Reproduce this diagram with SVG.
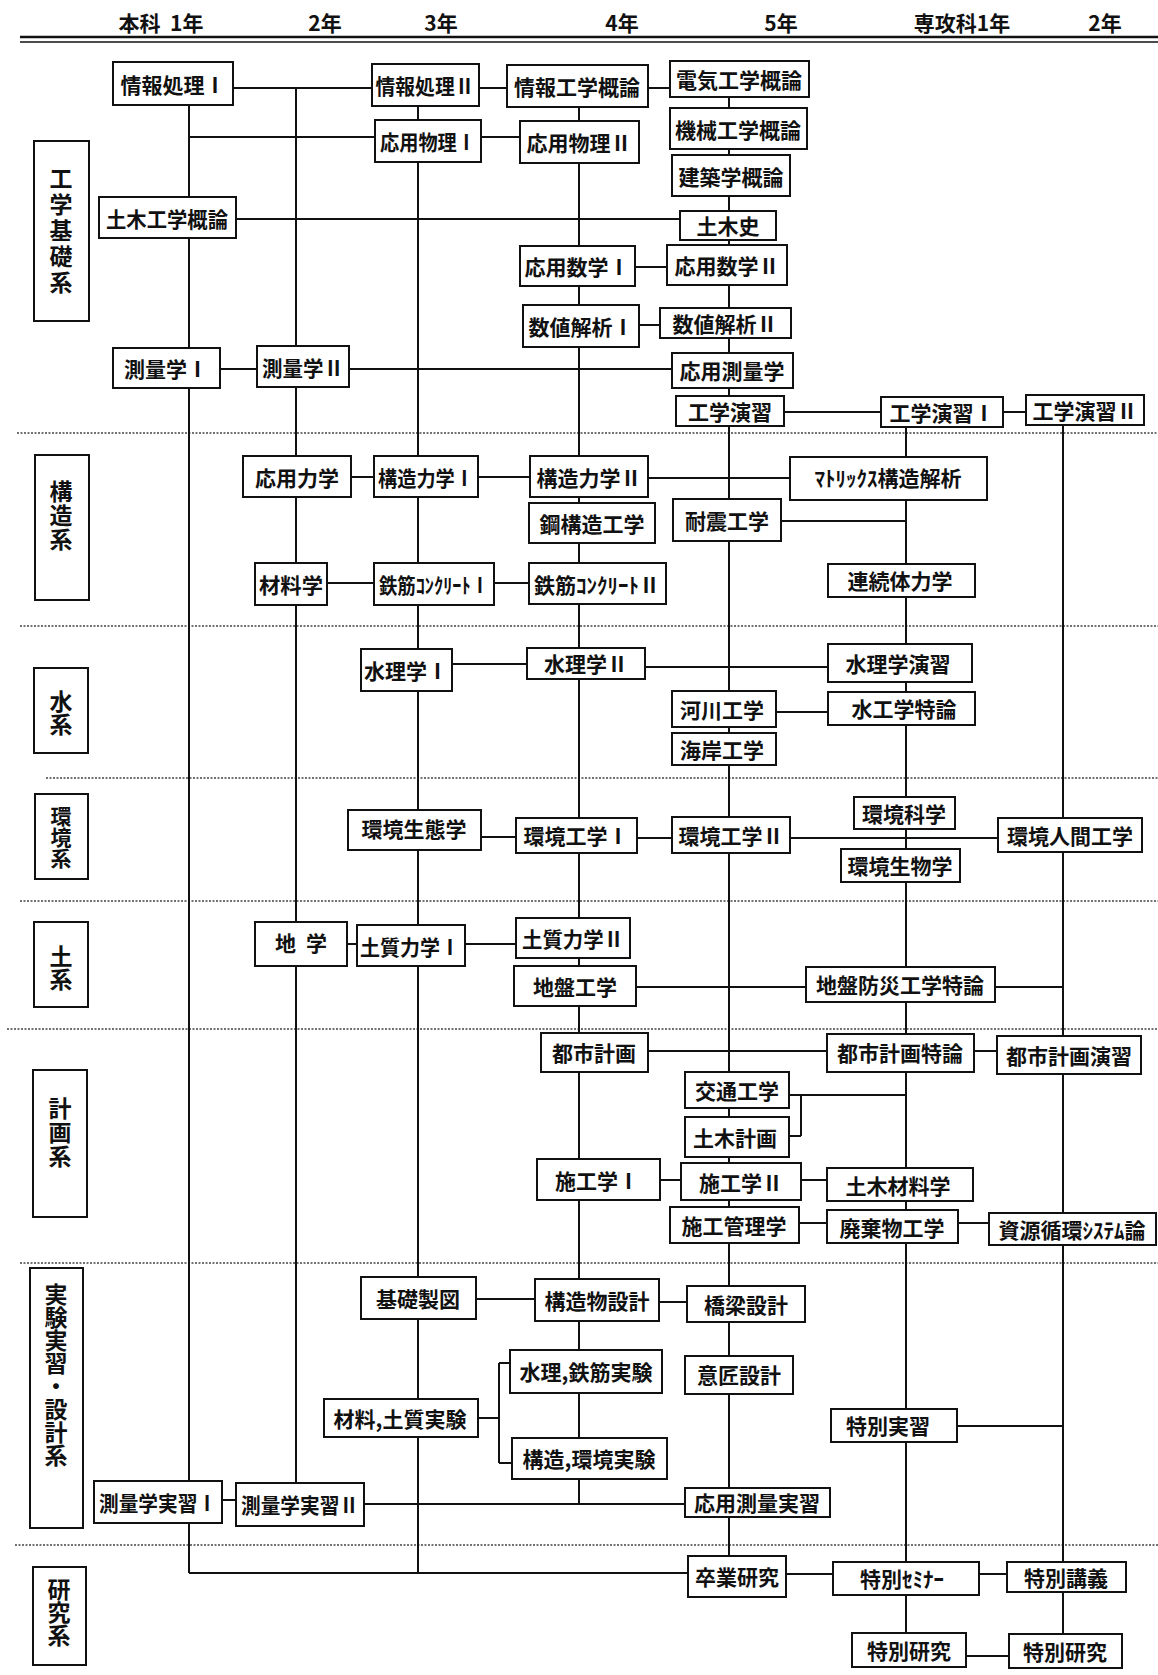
<svg xmlns="http://www.w3.org/2000/svg" width="1158" height="1675" viewBox="0 0 1158 1675">
<style>
.box{fill:#fff;stroke:#111;stroke-width:2}
.t{font-family:"Noto Sans CJK JP","Noto Sans CJK SC",sans-serif;font-size:21px;font-weight:bold;text-anchor:middle;dominant-baseline:central;fill:#111}
.h{font-family:"Noto Sans CJK JP","Noto Sans CJK SC",sans-serif;font-size:21px;font-weight:bold;text-anchor:middle;fill:#111}
.v{font-family:"Noto Sans CJK JP","Noto Sans CJK SC",sans-serif;font-size:23px;font-weight:bold;text-anchor:middle;fill:#111;writing-mode:vertical-rl}
.sep{stroke:#444;stroke-width:1.6;stroke-dasharray:2 1.5;fill:none}
.c{stroke:#111;stroke-width:2;fill:none}
</style>
<rect width="1158" height="1675" fill="#fff"/>
<g id="header">
<text class="h" x="161" y="31" xml:space="preserve">本科  1年</text>
<text class="h" x="325" y="31">2年</text>
<text class="h" x="441" y="31">3年</text>
<text class="h" x="622" y="31">4年</text>
<text class="h" x="781" y="31">5年</text>
<text class="h" x="962" y="31">専攻科1年</text>
<text class="h" x="1105" y="31">2年</text>
<line x1="20" y1="37" x2="1158" y2="37" stroke="#111" stroke-width="2.5"/>
<line x1="20" y1="42" x2="1158" y2="42" stroke="#111" stroke-width="1.5"/>
</g>
<g id="separators">
<line class="sep" x1="17" y1="433" x2="1158" y2="433"/>
<line class="sep" x1="20" y1="626" x2="1158" y2="626"/>
<line class="sep" x1="46" y1="778" x2="1158" y2="778"/>
<line class="sep" x1="20" y1="901" x2="1158" y2="901"/>
<line class="sep" x1="7" y1="1029" x2="1158" y2="1029"/>
<line class="sep" x1="20" y1="1263" x2="1158" y2="1263"/>
<line class="sep" x1="15" y1="1545" x2="1158" y2="1545"/>
</g>
<g id="categories">
<g id="cat1"><rect class="box" x="34" y="141" width="55" height="180"/><text class="v" x="61" y="232" letter-spacing="3">工学基礎系</text></g>
<g id="cat2"><rect class="box" x="35" y="455" width="54" height="145"/><text class="v" x="61" y="516" letter-spacing="1">構造系</text></g>
<g id="cat3"><rect class="box" x="34" y="668" width="54" height="85"/><text class="v" x="61" y="713">水系</text></g>
<g id="cat4"><rect class="box" x="35" y="794" width="53" height="85"/><text class="v" x="61" y="837" style="font-size:21px">環境系</text></g>
<g id="cat5"><rect class="box" x="34" y="922" width="54" height="85"/><text class="v" x="61" y="968">土系</text></g>
<g id="cat6"><rect class="box" x="33" y="1070" width="54" height="147"/><text class="v" x="60" y="1133" letter-spacing="1">計画系</text></g>
<g id="cat7"><rect class="box" x="30" y="1268" width="53" height="260"/><text class="v" x="56" y="1375">実験実習・設計系</text></g>
<g id="cat8"><rect class="box" x="33" y="1567" width="53" height="98"/><text class="v" x="59" y="1612">研究系</text></g>
</g>
<g id="connectors">
<path class="c" d="M189 105V197M189 238V348M189 388V1481M189 1523V1573"/>
<path class="c" d="M296 88V346M296 387V456M296 497V563M296 605V922M296 966V1483"/>
<path class="c" d="M418 106V120M418 162V456M418 497V563M418 605V649M418 691V810M418 850V925M418 966V1277M418 1319V1399M418 1437V1573"/>
<path class="c" d="M579 107V121M579 163V246M579 286V305M579 347V456M579 497V503M579 543V563M579 604V648M579 679V818M579 853V918M579 958V966M579 1006V1033M579 1072V1159M579 1200V1279M579 1321V1350M579 1393V1438M579 1479V1504"/>
<path class="c" d="M729 97V108M729 149V155M729 196V211M729 240V245M729 285V308M729 338V353M729 388V396M729 426V499M729 541V691M729 727V733M729 765V817M729 853V1072M729 1108V1117M729 1157V1163M729 1200V1207M729 1243V1286M729 1322V1356M729 1394V1488M729 1517V1556"/>
<path class="c" d="M906 427V457M906 500V564M906 597V644M906 682V692M906 725V797M906 829V849M906 882V967M906 1002V1034M906 1072V1168M906 1201V1210M906 1243V1409M906 1442V1562M906 1595V1633"/>
<path class="c" d="M1063 425V818M1063 852V1036M1063 1074V1213M1063 1245V1562M1063 1592V1634"/>
<path class="c" d="M233 88H372M479 88H507M648 88H670M189 137H375M481 137H520M236 219H680M635 267H667M639 325H660M220 369H257M349 369H672M784 412H881M1003 412H1026"/>
<path class="c" d="M351 477H374M478 477H530M648 478H790M781 521H906M327 583H374M494 583H529M452 664H527M645 667H828M776 712H828M481 837H516M637 838H672M790 838H998"/>
<path class="c" d="M347 944H357M465 944H516M636 987H806M995 987H1063M648 1051H827M974 1051H997M789 1095H906M801 1095V1136M789 1136H801M660 1180H681M801 1180H827M799 1223H827M958 1223H989"/>
<path class="c" d="M476 1299H535M659 1302H687M478 1418H499M499 1363V1463M499 1363H510M499 1463H512M957 1426H1063M222 1500H236M364 1504H685M189 1573H688M786 1574H833M979 1574H1007M966 1656H1009"/>
</g>
<g id="nodes">
<g id="n01"><rect class="box" x="113" y="62" width="120" height="43"/><text class="t" x="173" y="84">情報処理Ⅰ</text></g>
<g id="n02"><rect class="box" x="372" y="64" width="107" height="42"/><text class="t" x="425" y="85" textLength="99" lengthAdjust="spacingAndGlyphs">情報処理Ⅱ</text></g>
<g id="n03"><rect class="box" x="507" y="65" width="141" height="42"/><text class="t" x="577" y="86">情報工学概論</text></g>
<g id="n04"><rect class="box" x="670" y="61" width="139" height="36"/><text class="t" x="739" y="79">電気工学概論</text></g>
<g id="n05"><rect class="box" x="670" y="108" width="137" height="41"/><text class="t" x="738" y="129">機械工学概論</text></g>
<g id="n06"><rect class="box" x="672" y="155" width="118" height="41"/><text class="t" x="731" y="176">建築学概論</text></g>
<g id="n07"><rect class="box" x="680" y="211" width="96" height="29"/><text class="t" x="728" y="225">土木史</text></g>
<g id="n08"><rect class="box" x="375" y="120" width="106" height="42"/><text class="t" x="428" y="141" textLength="96" lengthAdjust="spacingAndGlyphs">応用物理Ⅰ</text></g>
<g id="n09"><rect class="box" x="520" y="121" width="119" height="42"/><text class="t" x="579" y="142">応用物理Ⅱ</text></g>
<g id="n10"><rect class="box" x="99" y="197" width="137" height="41"/><text class="t" x="167" y="218" textLength="122" lengthAdjust="spacingAndGlyphs">土木工学概論</text></g>
<g id="n11"><rect class="box" x="520" y="246" width="115" height="40"/><text class="t" x="577" y="266">応用数学Ⅰ</text></g>
<g id="n12"><rect class="box" x="667" y="245" width="120" height="40"/><text class="t" x="727" y="265">応用数学Ⅱ</text></g>
<g id="n13"><rect class="box" x="523" y="305" width="116" height="42"/><text class="t" x="581" y="326">数値解析Ⅰ</text></g>
<g id="n14"><rect class="box" x="660" y="308" width="131" height="30"/><text class="t" x="725" y="323">数値解析Ⅱ</text></g>
<g id="n15"><rect class="box" x="113" y="348" width="107" height="40"/><text class="t" x="166" y="368">測量学Ⅰ</text></g>
<g id="n16"><rect class="box" x="257" y="346" width="92" height="41"/><text class="t" x="303" y="367" textLength="82" lengthAdjust="spacingAndGlyphs">測量学Ⅱ</text></g>
<g id="n17"><rect class="box" x="672" y="353" width="121" height="35"/><text class="t" x="732" y="370">応用測量学</text></g>
<g id="n18"><rect class="box" x="676" y="396" width="108" height="30"/><text class="t" x="730" y="411">工学演習</text></g>
<g id="n19"><rect class="box" x="881" y="397" width="122" height="30"/><text class="t" x="942" y="412">工学演習Ⅰ</text></g>
<g id="n20"><rect class="box" x="1026" y="395" width="118" height="30"/><text class="t" x="1085" y="410">工学演習Ⅱ</text></g>
<g id="n21"><rect class="box" x="243" y="456" width="108" height="41"/><text class="t" x="297" y="477">応用力学</text></g>
<g id="n22"><rect class="box" x="374" y="456" width="104" height="41"/><text class="t" x="426" y="477" textLength="96" lengthAdjust="spacingAndGlyphs">構造力学Ⅰ</text></g>
<g id="n23"><rect class="box" x="530" y="456" width="118" height="41"/><text class="t" x="589" y="477">構造力学Ⅱ</text></g>
<g id="n24"><rect class="box" x="529" y="503" width="126" height="40"/><text class="t" x="592" y="523">鋼構造工学</text></g>
<g id="n25"><rect class="box" x="790" y="457" width="197" height="43"/><text class="t" x="888" y="477">ﾏﾄﾘｯｸｽ構造解析</text></g>
<g id="n26"><rect class="box" x="673" y="499" width="108" height="42"/><text class="t" x="727" y="520">耐震工学</text></g>
<g id="n27"><rect class="box" x="255" y="563" width="72" height="42"/><text class="t" x="291" y="584" textLength="64" lengthAdjust="spacingAndGlyphs">材料学</text></g>
<g id="n28"><rect class="box" x="374" y="563" width="120" height="42"/><text class="t" x="434" y="584" textLength="110" lengthAdjust="spacingAndGlyphs">鉄筋ｺﾝｸﾘｰﾄⅠ</text></g>
<g id="n29"><rect class="box" x="529" y="563" width="137" height="41"/><text class="t" x="597" y="584">鉄筋ｺﾝｸﾘｰﾄⅡ</text></g>
<g id="n30"><rect class="box" x="828" y="564" width="147" height="33"/><text class="t" x="900" y="580">連続体力学</text></g>
<g id="n31"><rect class="box" x="361" y="649" width="91" height="42"/><text class="t" x="406" y="670">水理学Ⅰ</text></g>
<g id="n32"><rect class="box" x="527" y="648" width="118" height="31"/><text class="t" x="586" y="663">水理学Ⅱ</text></g>
<g id="n33"><rect class="box" x="828" y="644" width="144" height="38"/><text class="t" x="898" y="663">水理学演習</text></g>
<g id="n34"><rect class="box" x="672" y="691" width="104" height="36"/><text class="t" x="722" y="709">河川工学</text></g>
<g id="n35"><rect class="box" x="828" y="692" width="147" height="33"/><text class="t" x="904" y="708">水工学特論</text></g>
<g id="n36"><rect class="box" x="672" y="733" width="104" height="32"/><text class="t" x="722" y="749">海岸工学</text></g>
<g id="n37"><rect class="box" x="348" y="810" width="133" height="40"/><text class="t" x="414" y="828">環境生態学</text></g>
<g id="n38"><rect class="box" x="516" y="818" width="121" height="35"/><text class="t" x="576" y="835">環境工学Ⅰ</text></g>
<g id="n39"><rect class="box" x="672" y="817" width="118" height="36"/><text class="t" x="731" y="835">環境工学Ⅱ</text></g>
<g id="n40"><rect class="box" x="854" y="797" width="101" height="32"/><text class="t" x="904" y="813">環境科学</text></g>
<g id="n41"><rect class="box" x="841" y="849" width="119" height="33"/><text class="t" x="900" y="865">環境生物学</text></g>
<g id="n42"><rect class="box" x="998" y="818" width="144" height="34"/><text class="t" x="1070" y="835">環境人間工学</text></g>
<g id="n43"><rect class="box" x="255" y="922" width="92" height="44"/><text class="t" x="306" y="942" letter-spacing="10">地学</text></g>
<g id="n44"><rect class="box" x="357" y="925" width="108" height="41"/><text class="t" x="410" y="946" textLength="100" lengthAdjust="spacingAndGlyphs">土質力学Ⅰ</text></g>
<g id="n45"><rect class="box" x="516" y="918" width="114" height="40"/><text class="t" x="573" y="938" textLength="102" lengthAdjust="spacingAndGlyphs">土質力学Ⅱ</text></g>
<g id="n46"><rect class="box" x="514" y="966" width="122" height="40"/><text class="t" x="575" y="986">地盤工学</text></g>
<g id="n47"><rect class="box" x="806" y="967" width="189" height="35"/><text class="t" x="900" y="984">地盤防災工学特論</text></g>
<g id="n48"><rect class="box" x="541" y="1033" width="107" height="39"/><text class="t" x="594" y="1052">都市計画</text></g>
<g id="n49"><rect class="box" x="827" y="1034" width="147" height="38"/><text class="t" x="900" y="1052">都市計画特論</text></g>
<g id="n50"><rect class="box" x="997" y="1036" width="144" height="38"/><text class="t" x="1069" y="1055">都市計画演習</text></g>
<g id="n51"><rect class="box" x="685" y="1072" width="104" height="36"/><text class="t" x="737" y="1090">交通工学</text></g>
<g id="n52"><rect class="box" x="685" y="1117" width="104" height="40"/><text class="t" x="735" y="1137">土木計画</text></g>
<g id="n53"><rect class="box" x="537" y="1159" width="123" height="41"/><text class="t" x="597" y="1180">施工学Ⅰ</text></g>
<g id="n54"><rect class="box" x="681" y="1163" width="120" height="37"/><text class="t" x="741" y="1182">施工学Ⅱ</text></g>
<g id="n55"><rect class="box" x="827" y="1168" width="146" height="33"/><text class="t" x="898" y="1185">土木材料学</text></g>
<g id="n56"><rect class="box" x="670" y="1207" width="129" height="36"/><text class="t" x="734" y="1225">施工管理学</text></g>
<g id="n57"><rect class="box" x="827" y="1210" width="131" height="33"/><text class="t" x="892" y="1227">廃棄物工学</text></g>
<g id="n58"><rect class="box" x="989" y="1213" width="167" height="32"/><text class="t" x="1072" y="1229">資源循環ｼｽﾃﾑ論</text></g>
<g id="n59"><rect class="box" x="361" y="1277" width="115" height="42"/><text class="t" x="418" y="1298">基礎製図</text></g>
<g id="n60"><rect class="box" x="535" y="1279" width="124" height="42"/><text class="t" x="597" y="1300">構造物設計</text></g>
<g id="n61"><rect class="box" x="687" y="1286" width="118" height="36"/><text class="t" x="746" y="1304">橋梁設計</text></g>
<g id="n62"><rect class="box" x="510" y="1350" width="152" height="43"/><text class="t" x="586" y="1371">水理,鉄筋実験</text></g>
<g id="n63"><rect class="box" x="685" y="1356" width="108" height="38"/><text class="t" x="739" y="1374">意匠設計</text></g>
<g id="n64"><rect class="box" x="324" y="1399" width="154" height="38"/><text class="t" x="400" y="1418">材料,土質実験</text></g>
<g id="n65"><rect class="box" x="831" y="1409" width="126" height="33"/><text class="t" x="888" y="1425">特別実習</text></g>
<g id="n66"><rect class="box" x="512" y="1438" width="155" height="41"/><text class="t" x="589" y="1458">構造,環境実験</text></g>
<g id="n67"><rect class="box" x="94" y="1481" width="128" height="42"/><text class="t" x="158" y="1502" textLength="118" lengthAdjust="spacingAndGlyphs">測量学実習Ⅰ</text></g>
<g id="n68"><rect class="box" x="236" y="1483" width="128" height="43"/><text class="t" x="300" y="1504" textLength="118" lengthAdjust="spacingAndGlyphs">測量学実習Ⅱ</text></g>
<g id="n69"><rect class="box" x="685" y="1488" width="145" height="29"/><text class="t" x="757" y="1502">応用測量実習</text></g>
<g id="n70"><rect class="box" x="688" y="1556" width="98" height="41"/><text class="t" x="737" y="1576">卒業研究</text></g>
<g id="n71"><rect class="box" x="833" y="1562" width="146" height="33"/><text class="t" x="902" y="1578">特別ｾﾐﾅｰ</text></g>
<g id="n72"><rect class="box" x="1007" y="1562" width="119" height="30"/><text class="t" x="1066" y="1577">特別講義</text></g>
<g id="n73"><rect class="box" x="852" y="1633" width="114" height="34"/><text class="t" x="909" y="1650">特別研究</text></g>
<g id="n74"><rect class="box" x="1009" y="1634" width="113" height="34"/><text class="t" x="1065" y="1651">特別研究</text></g>
</g>
</svg>
